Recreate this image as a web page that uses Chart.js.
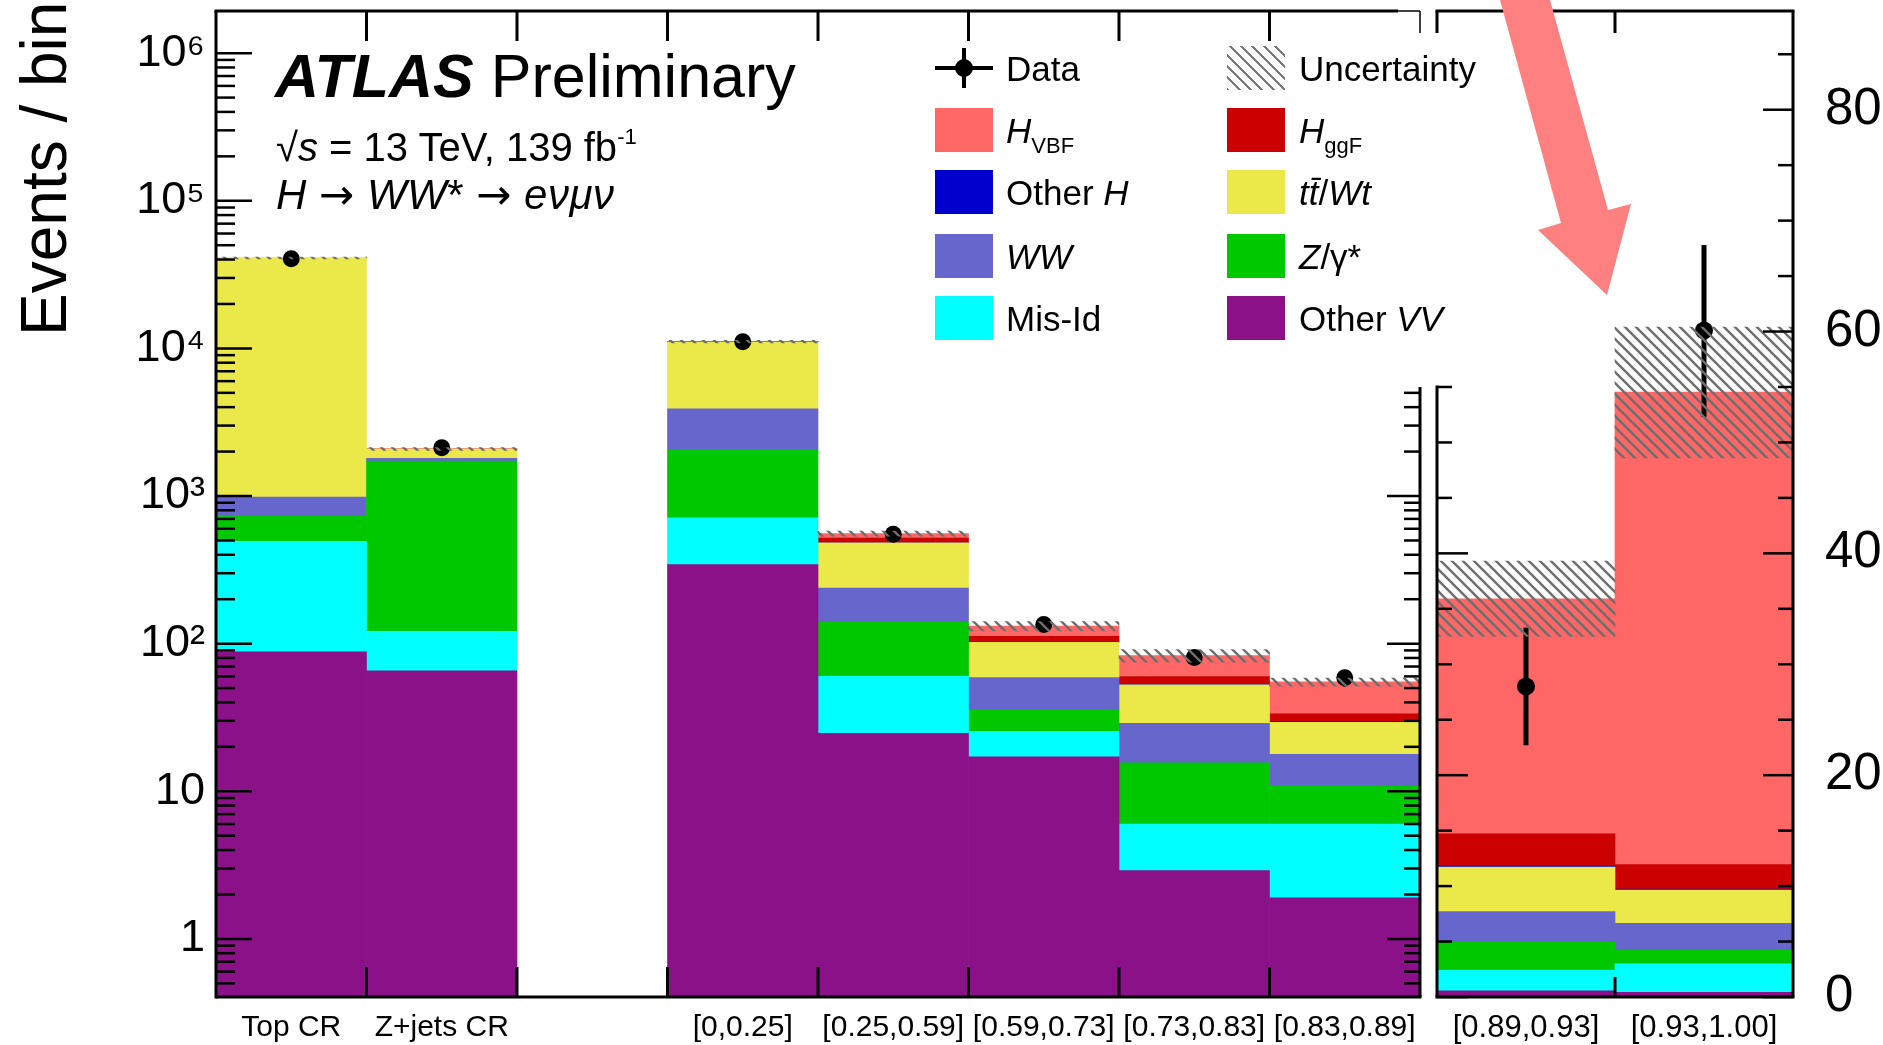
<!DOCTYPE html>
<html>
<head>
<meta charset="utf-8">
<title>H to WW* VBF signal regions</title>
<script src="https://cdn.jsdelivr.net/npm/chart.js@4.4.1/dist/chart.umd.min.js"></script>
<style>
  html, body { margin: 0; padding: 0; background: #fff; }
  #page { position: relative; width: 1883px; height: 1045px; overflow: hidden;
          font-family: "Liberation Sans", Arial, Helvetica, sans-serif; color: #000; }
  canvas { position: absolute; top: 0; }
  #cl { left: 0; }
  #cr { left: 1430px; }
  .t { position: absolute; white-space: nowrap; line-height: 1; }
  .sw { position: absolute; width: 58px; height: 44px; }
  .hatch { background: repeating-linear-gradient(45deg, #7a7a7a 0 2px, transparent 2px 8px); }
  .leg { font-size: 35px; }
  .leg sub { font-size: 22px; vertical-align: -10px; font-style: normal; }
  .arr { font-family: "DejaVu Sans", sans-serif; font-style: normal; }
  sup { font-size: 0.55em; vertical-align: 0.75em; }
</style>
</head>
<body>
<div id="page">
  <canvas id="cl" width="1430" height="1045"></canvas>
  <canvas id="cr" width="453" height="1045"></canvas>

  <div class="t" style="left:12px;top:336px;font-size:64px;transform-origin:0 0;transform:rotate(-90deg)">Events / bin</div>

  <div class="t" style="left:275px;top:46px;font-size:61px"><b><i>ATLAS</i></b> Preliminary</div>
  <div class="t" style="left:276px;top:126px;font-size:40px">&radic;<i>s</i> = 13 TeV, 139 fb<sup>-1</sup></div>
  <div class="t" style="left:276px;top:174px;font-size:42px;letter-spacing:0.5px"><i>H</i> <span class="arr">&rarr;</span> <i>WW</i>* <span class="arr">&rarr;</span> <i>e&nu;&mu;&nu;</i></div>

  <!-- legend -->
  <div style="position:absolute;left:935px;top:65.5px;width:58px;height:4px;background:#000"></div>
  <div style="position:absolute;left:962px;top:48px;width:4px;height:40px;background:#000"></div>
  <div style="position:absolute;left:955px;top:58.5px;width:18px;height:18px;border-radius:50%;background:#000"></div>
  <div class="sw" style="left:935px;top:107.5px;background:#ff6666"></div>
  <div class="sw" style="left:935px;top:170px;background:#0000cc"></div>
  <div class="sw" style="left:935px;top:233.5px;background:#6666cc"></div>
  <div class="sw" style="left:935px;top:296px;background:#00ffff"></div>
  <div class="sw hatch" style="left:1227px;top:45.5px"></div>
  <div class="sw" style="left:1227px;top:107.5px;background:#cc0000"></div>
  <div class="sw" style="left:1227px;top:170px;background:#ebe84a"></div>
  <div class="sw" style="left:1227px;top:233.5px;background:#00c800"></div>
  <div class="sw" style="left:1227px;top:296px;background:#8a1187"></div>

  <div class="t leg" style="left:1006px;top:50.5px">Data</div>
  <div class="t leg" style="left:1006px;top:112.5px"><i>H</i><sub>VBF</sub></div>
  <div class="t leg" style="left:1006px;top:175px">Other <i>H</i></div>
  <div class="t leg" style="left:1006px;top:238.5px"><i>WW</i></div>
  <div class="t leg" style="left:1006px;top:301px">Mis-Id</div>
  <div class="t leg" style="left:1299px;top:50.5px">Uncertainty</div>
  <div class="t leg" style="left:1299px;top:112.5px"><i>H</i><sub>ggF</sub></div>
  <div class="t leg" style="left:1299px;top:175px"><i>tt&#772;</i>/<i>Wt</i></div>
  <div class="t leg" style="left:1299px;top:238.5px"><i>Z</i>/&gamma;*</div>
  <div class="t leg" style="left:1299px;top:301px">Other <i>VV</i></div>

  <svg width="1883" height="1045" style="position:absolute;left:0;top:0;pointer-events:none">
    <polygon points="1500,0 1550,0 1608,210 1631,204 1607,295 1538,230 1561,223" fill="#ff8080"/>
  </svg>
</div>

<script>
// bins
const binsLeft = ['Top CR', 'Z+jets CR', '', '[0,0.25]', '[0.25,0.59]', '[0.59,0.73]', '[0.73,0.83]', '[0.83,0.89]'];
const binsRight = ['[0.89,0.93]', '[0.93,1.00]'];

// stacked backgrounds + signals, log panel (events per component)
const vvLeft    = [88, 65.5, null, 343, 24.7, 17.1, 2.9, 1.9];
const misIdLeft = [406, 55.5, null, 368, 35.4, 8.3, 3.1, 4.1];
const zLeft     = [236, 1606, null, 1327, 80, 10.3, 9.6, 4.9];
const wwLeft    = [254, 71, null, 1862, 98, 23.1, 13.2, 6.9];
const topLeft   = [40000, 283, null, 7200, 243, 43.2, 23.9, 11.5];
const othHLeft  = [0, 0, null, 2, 0.5, 0.3, 0.2, 0.2];
const ggfLeft   = [0, 2, null, 15, 37.5, 10, 7, 4];
const vbfLeft   = [1, 3, null, 20, 38, 19, 23, 21.6];
const uncLeft   = [[40400, 41600], [2040, 2130], null, [10900, 11350], [535, 578], [122, 141], [75, 91], [51.5, 58.5]];
const dataLeft  = [40500, 2120, null, 11100, 551, 135, 80.5, 58.8];
const dataLoLeft = [40300, 2074, null, 10995, 528, 123.4, 71.5, 51.1];
const dataHiLeft = [40700, 2166, null, 11205, 574, 146.6, 89.5, 66.5];

// linear panel
const vvRight    = [0.56, 0.43];
const misIdRight = [1.84, 2.57];
const zRight     = [2.53, 1.2];
const wwRight    = [2.78, 2.44];
const topRight   = [4.0, 3.0];
const othHRight  = [0.1, 0.1];
const ggfRight   = [2.9, 2.2];
const vbfRight   = [21.2, 42.6];
const uncRight   = [[32.5, 39.3], [48.6, 60.4]];
const dataRight  = [28.0, 60.1];
const dataLoRight = [22.7, 52.3];
const dataHiRight = [33.3, 67.8];

// axis ticks
const yTicksLeft = [1, 10, 100, 1000, 10000, 100000, 1000000];
const yLabelsLeft = ['1', '10', '10\u00B2', '10\u00B3', '10\u2074', '10\u2075', '10\u2076'];
const yTicksRight = [0, 20, 40, 60, 80];

const colors = {
  vv: '#8a1187', misId: '#00ffff', z: '#00c800', ww: '#6666cc',
  top: '#ebe84a', othH: '#0000cc', ggf: '#cc0000', vbf: '#ff6666'
};

Chart.defaults.font.family = '"Liberation Sans", Arial, Helvetica, sans-serif';
Chart.defaults.color = '#000';

function hatchPattern(ctx) {
  const c = document.createElement('canvas');
  c.width = 11; c.height = 11;
  const g = c.getContext('2d');
  g.strokeStyle = '#6e6e6e';
  g.lineWidth = 2.4;
  g.beginPath();
  g.moveTo(-1, -1); g.lineTo(12, 12);
  g.moveTo(-6.5, 4.5); g.lineTo(6.5, 17.5);
  g.moveTo(4.5, -6.5); g.lineTo(17.5, 6.5);
  g.stroke();
  return ctx.createPattern(c, 'repeat');
}

function stackSets(v) {
  const mk = (label, data, color) => ({ label, data, backgroundColor: color, borderWidth: 0, stack: 'bkg', order: 2 });
  return [
    mk('Other VV', v[0], colors.vv),
    mk('Mis-Id', v[1], colors.misId),
    mk('Z/gamma*', v[2], colors.z),
    mk('WW', v[3], colors.ww),
    mk('ttbar/Wt', v[4], colors.top),
    mk('Other H', v[5], colors.othH),
    mk('H ggF', v[6], colors.ggf),
    mk('H VBF', v[7], colors.vbf)
  ];
}

function line(ctx, x1, y1, x2, y2, w) {
  ctx.lineWidth = w;
  ctx.beginPath(); ctx.moveTo(x1, y1); ctx.lineTo(x2, y2); ctx.stroke();
}

function errorBars(lo, hi, w) {
  return {
    id: 'errbars',
    afterDatasetDraw(chart, args) {
      if (chart.data.datasets[args.index].label !== 'Data') return;
      const ctx = chart.ctx, y = chart.scales.y;
      ctx.save();
      ctx.strokeStyle = '#000';
      args.meta.data.forEach((pt, i) => {
        if (lo[i] == null) return;
        line(ctx, pt.x, y.getPixelForValue(lo[i]), pt.x, y.getPixelForValue(hi[i]), w);
      });
      ctx.restore();
    }
  };
}

// frame + inward ticks, ROOT style
const frameLeft = {
  id: 'frameLeft',
  afterDraw(chart) {
    const { ctx, chartArea: a, scales: { x, y } } = chart;
    ctx.save();
    ctx.strokeStyle = '#000';
    line(ctx, a.left - 1.5, a.top, 1398, a.top, 3);
    line(ctx, 1398, a.top, a.right, a.top, 1.5);
    line(ctx, a.left, a.top, a.left, a.bottom + 1.5, 3);
    line(ctx, a.left, a.bottom, a.right + 1.5, a.bottom, 3);
    line(ctx, a.right, a.top, a.right, a.top + 22, 1.5);
    line(ctx, a.right, 387, a.right, a.bottom, 3);
    for (let n = -1; n <= 6; n++) {
      for (let k = 1; k <= 9; k++) {
        const v = k * Math.pow(10, n);
        if (v < y.min || v > y.max) continue;
        const py = y.getPixelForValue(v);
        const major = k === 1;
        line(ctx, a.left, py, a.left + (major ? 36 : 19), py, 2.5);
        if (py >= 389) line(ctx, a.right - (major ? 33 : 16), py, a.right, py, 2.5);
      }
    }
    for (let i = 0; i < binsLeft.length - 1; i++) {
      const px = (x.getPixelForValue(i) + x.getPixelForValue(i + 1)) / 2;
      line(ctx, px, a.top, px, a.top + 30, 3);
      line(ctx, px, a.bottom, px, a.bottom - 30, 3);
    }
    ctx.restore();
  }
};

const frameRight = {
  id: 'frameRight',
  afterDraw(chart) {
    const { ctx, chartArea: a, scales: { x, y } } = chart;
    ctx.save();
    ctx.strokeStyle = '#000';
    line(ctx, a.left - 1.5, a.top, a.right + 1.5, a.top, 3);
    line(ctx, a.right, a.top, a.right, a.bottom, 3);
    line(ctx, a.left - 1.5, a.bottom, a.right + 1.5, a.bottom, 3);
    line(ctx, a.left, a.top, a.left, a.top + 22, 3);
    const yInsetTop = y.getPixelForValue(55);
    line(ctx, a.left, yInsetTop - 1.5, a.left, a.bottom, 3);
    for (let v = 0; v <= 85; v += 5) {
      const py = y.getPixelForValue(v);
      const major = v % 20 === 0;
      line(ctx, a.right - (major ? 30 : 15), py, a.right, py, 2.5);
      if (v <= 55) line(ctx, a.left, py, a.left + (major ? 31 : 15), py, 2.5);
    }
    const px = (x.getPixelForValue(0) + x.getPixelForValue(1)) / 2;
    line(ctx, px, a.top, px, a.top + 22, 3);
    line(ctx, px, a.bottom, px, a.bottom - 20, 3);
    ctx.restore();
  }
};

// fixed axis sizes, no label overhang padding
const fixX = (s) => { s.height = 48; s.paddingLeft = 0; s.paddingRight = 0; s.paddingTop = 0; s.paddingBottom = 0; };
const fixY = (w) => (s) => { s.width = w; s.paddingTop = 0; s.paddingBottom = 0; s.paddingLeft = 0; s.paddingRight = 0; };

const common = {
  responsive: false,
  animation: false,
  events: [],
  datasets: { bar: { barPercentage: 1, categoryPercentage: 1 } },
  plugins: { legend: { display: false }, tooltip: { enabled: false } }
};

const ctxL = document.getElementById('cl').getContext('2d');
new Chart(ctxL, {
  type: 'bar',
  data: {
    labels: binsLeft,
    datasets: [
      ...stackSets([vvLeft, misIdLeft, zLeft, wwLeft, topLeft, othHLeft, ggfLeft, vbfLeft]),
      { type: 'line', label: 'Data', data: dataLeft, showLine: false, pointRadius: 8.5,
        pointBackgroundColor: '#000', pointBorderWidth: 0, stack: 'data', order: 1 },
      { label: 'Uncertainty', data: uncLeft, backgroundColor: hatchPattern(ctxL), borderWidth: 0,
        grouped: false, stack: 'unc', order: 0 }
    ]
  },
  options: {
    ...common,
    layout: { autoPadding: false, padding: { left: 0, top: 11, right: 10, bottom: 0 } },
    scales: {
      x: {
        stacked: true,
        grid: { display: false }, border: { display: false },
        ticks: { font: { size: 30 }, padding: 5, maxRotation: 0, minRotation: 0, autoSkip: false },
        afterFit: fixX
      },
      y: {
        type: 'logarithmic', stacked: true,
        min: 0.404, max: 1.93e6,
        grid: { display: false }, border: { display: false },
        afterBuildTicks: (s) => { s.ticks = yTicksLeft.map((v) => ({ value: v })); },
        ticks: { font: { size: 45 }, padding: 3, callback: (v) => yLabelsLeft[yTicksLeft.indexOf(v)] },
        afterFit: fixY(216)
      }
    }
  },
  plugins: [frameLeft, errorBars(dataLoLeft, dataHiLeft, 3)]
});

const ctxR = document.getElementById('cr').getContext('2d');
new Chart(ctxR, {
  type: 'bar',
  data: {
    labels: binsRight,
    datasets: [
      ...stackSets([vvRight, misIdRight, zRight, wwRight, topRight, othHRight, ggfRight, vbfRight]),
      { type: 'line', label: 'Data', data: dataRight, showLine: false, pointRadius: 9,
        pointBackgroundColor: '#000', pointBorderWidth: 0, stack: 'data', order: 1 },
      { label: 'Uncertainty', data: uncRight, backgroundColor: hatchPattern(ctxR), borderWidth: 0,
        grouped: false, stack: 'unc', order: 0 }
    ]
  },
  options: {
    ...common,
    layout: { autoPadding: false, padding: { left: 7, top: 11, right: 0, bottom: 0 } },
    scales: {
      x: {
        stacked: true,
        grid: { display: false }, border: { display: false },
        ticks: { font: { size: 31 }, padding: 5, maxRotation: 0, minRotation: 0, autoSkip: false },
        afterFit: fixX
      },
      y: {
        position: 'right', stacked: true,
        min: 0, max: 88.9,
        grid: { display: false }, border: { display: false },
        afterBuildTicks: (s) => { s.ticks = yTicksRight.map((v) => ({ value: v })); },
        ticks: { font: { size: 51 }, padding: 24 },
        afterFit: fixY(90)
      }
    }
  },
  plugins: [frameRight, errorBars(dataLoRight, dataHiRight, 5)]
});
</script>
</body>
</html>
